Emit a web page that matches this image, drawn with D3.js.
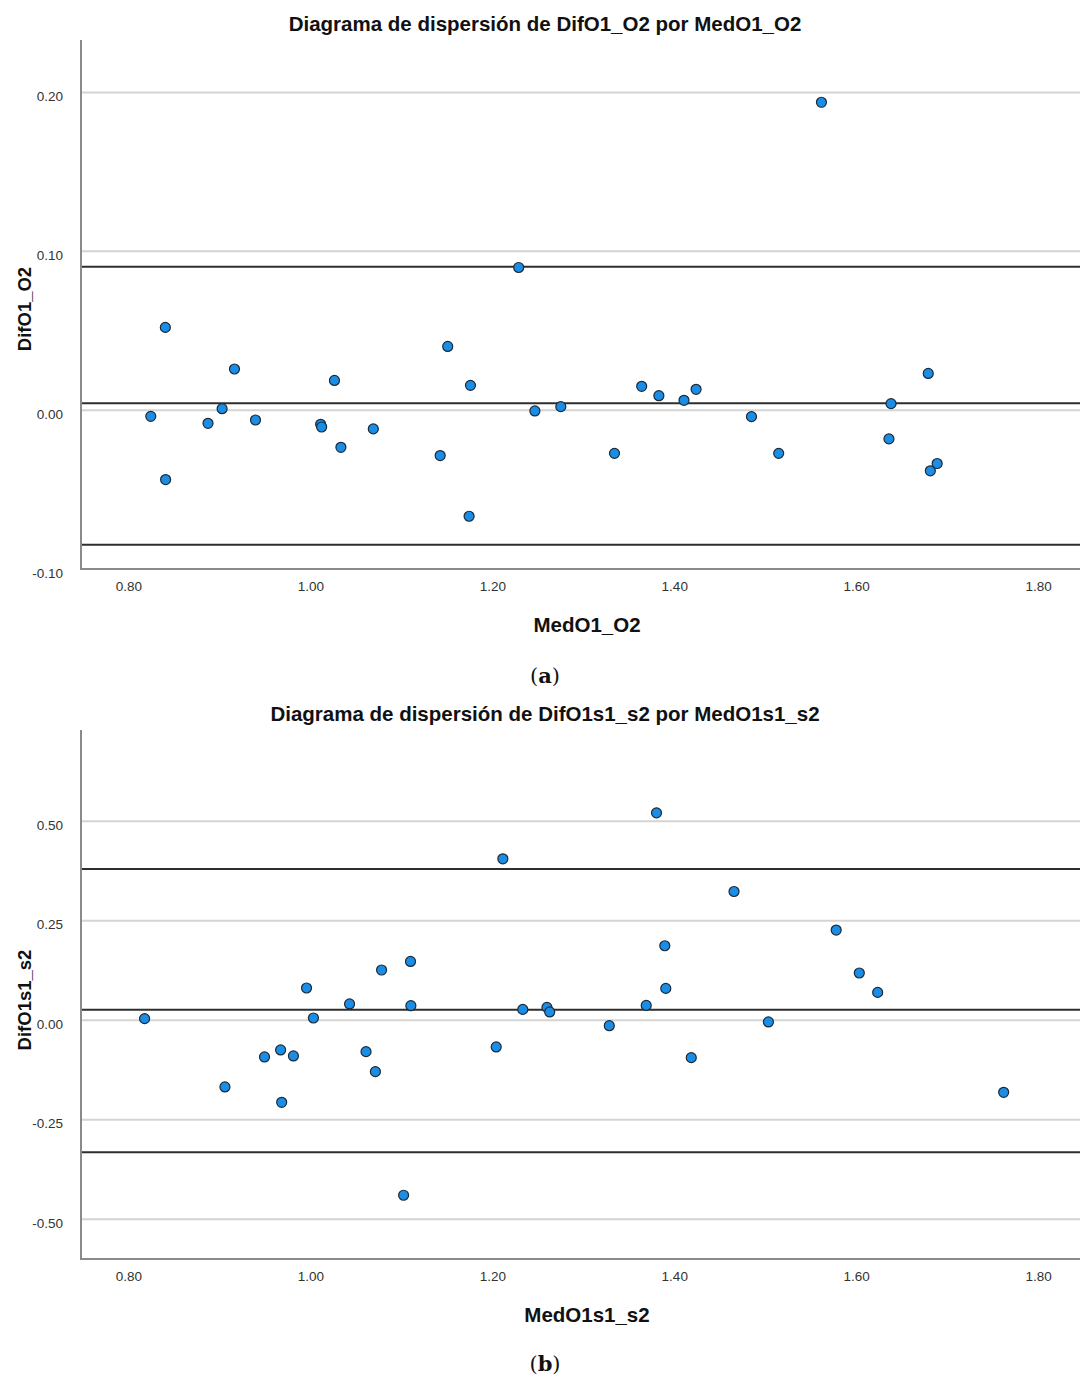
<!DOCTYPE html>
<html>
<head>
<meta charset="utf-8">
<script src="https://cdn.jsdelivr.net/npm/d3@7"></script>
<style>
  body { margin: 0; background: #fff; }
  svg { display: block; font-family: "Liberation Sans", Arial, sans-serif; }
  .tick text { fill: #333; font-size: 13.5px; }
</style>
</head>
<body>
<div id="chart"></div>
<script>
// Panel (a) data: mean of O1/O2 vs difference
var medA = [0.8246, 0.8406, 0.8409, 0.8875, 0.9030, 0.9166, 0.9397, 1.0113, 1.0124, 1.0265,
            1.0336, 1.0692, 1.1427, 1.1510, 1.1745, 1.1760, 1.2290, 1.2468, 1.2753, 1.3343,
            1.3642, 1.3831, 1.4107, 1.4240, 1.4849, 1.5148, 1.5618, 1.6360, 1.6383, 1.6792,
            1.6815, 1.6890]
var difA = [-0.0039, 0.0521, -0.0437, -0.0083, 0.0009, 0.0259, -0.0062, -0.0089, -0.0106, 0.0187,
            -0.0234, -0.0118, -0.0286, 0.0401, -0.0668, 0.0156, 0.0898, -0.0005, 0.0022, -0.0272,
            0.0150, 0.0091, 0.0062, 0.0131, -0.0041, -0.0272, 0.1938, -0.0181, 0.0041, 0.0231,
            -0.0382, -0.0336]
var refLinesA = [0.0903, 0.0043, -0.0848]
var yTicksA = [-0.10, 0.00, 0.10, 0.20]

// Panel (b) data
var medB = [0.8178, 0.9061, 0.9496, 0.9673, 0.9685, 0.9814, 0.9958, 1.0034, 1.0431, 1.0612,
            1.0715, 1.0783, 1.1025, 1.1101, 1.1105, 1.2043, 1.2116, 1.2335, 1.2601, 1.2631,
            1.3286, 1.3692, 1.3805, 1.3896, 1.3907, 1.4187, 1.4657, 1.5035, 1.5780, 1.6034,
            1.6236, 1.7621]
var difB = [0.0038, -0.1677, -0.0924, -0.0748, -0.2063, -0.0899, 0.0808, 0.0055, 0.0407, -0.0791,
            -0.1293, 0.1260, -0.4398, 0.1476, 0.0364, -0.0673, 0.4054, 0.0271, 0.0321, 0.0206,
            -0.0138, 0.0371, 0.5208, 0.1870, 0.0798, -0.0941, 0.3233, -0.0045, 0.2264, 0.1185,
            0.0698, -0.1812]
var refLinesB = [0.3795, 0.0264, -0.3320]
var yTicksB = [-0.50, -0.25, 0.00, 0.25, 0.50]

var xTicks = [0.80, 1.00, 1.20, 1.40, 1.60, 1.80]

// plain hyphen for negatives, like the original
var fmt = d => d.toFixed(2)

var svg = d3.select("#chart").append("svg")
  .attr("width", 1080)
  .attr("height", 1379)

function drawPanel(p) {
  var x = d3.scaleLinear().domain([0.749, 1.846]).range([82, 1080])
  var y = d3.scaleLinear().domain(p.yDomain).range([p.bottom, p.top])
  var g = svg.append("g")

  // gridlines
  g.append("g")
  .selectAll("line")
  .data(p.yTicks)
  .enter()
  .append("line")
  .attr("x1", 82).attr("x2", 1080)
  .attr("y1", d => y(d)).attr("y2", d => y(d))
  .attr("stroke", "#d4d4d4")
  .attr("stroke-width", 2)

  // reference lines (mean and limits)
  g.append("g")
  .selectAll("line")
  .data(p.refLines)
  .enter()
  .append("line")
  .attr("x1", 82).attr("x2", 1080)
  .attr("y1", d => y(d)).attr("y2", d => y(d))
  .attr("stroke", "#2e2e2e")
  .attr("stroke-width", 2)

  // axes
  var yAxis = g.append("g")
  .attr("transform", "translate(82,0)")
  .call(d3.axisLeft(y).tickValues(p.yTicks).tickSize(0).tickPadding(19).tickFormat(fmt))
  yAxis.select(".domain").remove()
  yAxis.selectAll("text").attr("dy", "0.6em")

  var xAxis = g.append("g")
  .attr("transform", "translate(0," + p.bottom + ")")
  .call(d3.axisBottom(x).tickValues(xTicks).tickSize(0).tickPadding(12).tickFormat(fmt))
  xAxis.select(".domain").remove()

  g.append("line")
  .attr("x1", 81).attr("x2", 81).attr("y1", p.top).attr("y2", p.bottom)
  .attr("stroke", "#8a8a8a").attr("stroke-width", 2)
  g.append("line")
  .attr("x1", 80).attr("x2", 1080).attr("y1", p.bottom).attr("y2", p.bottom)
  .attr("stroke", "#8a8a8a").attr("stroke-width", 2)

  // points
  g.append("g")
  .selectAll("circle")
  .data(p.med.map((m, i) => [m, p.dif[i]]))
  .enter()
  .append("circle")
  .attr("cx", d => x(d[0]))
  .attr("cy", d => y(d[1]))
  .attr("r", 5)
  .attr("fill", "#1a8ee6")
  .attr("stroke", "#1c2a36")
  .attr("stroke-width", 1.2)

  // title
  g.append("text")
  .attr("x", 545).attr("y", p.top - 9)
  .attr("text-anchor", "middle")
  .attr("font-size", 20.5).attr("font-weight", "bold")
  .attr("fill", "#111")
  .text(p.title)

  // axis titles
  g.append("text")
  .attr("x", 587).attr("y", p.bottom + 63)
  .attr("text-anchor", "middle")
  .attr("font-size", 20.5).attr("font-weight", "bold")
  .attr("fill", "#111")
  .text(p.xLabel)

  g.append("text")
  .attr("transform", "translate(31," + p.yLabelY + ") rotate(-90)")
  .attr("text-anchor", "middle")
  .attr("font-size", 18.5).attr("font-weight", "bold")
  .attr("fill", "#111")
  .text(p.yLabel)

  // panel caption
  var cap = g.append("text")
  .attr("x", 545).attr("y", p.captionY)
  .attr("text-anchor", "middle")
  .attr("font-family", "'DejaVu Serif', 'Liberation Serif', serif")
  .attr("font-size", 21)
  .attr("fill", "#111")
  cap.append("tspan").text("(")
  cap.append("tspan").attr("font-weight", "bold").text(p.caption)
  cap.append("tspan").text(")")
}

drawPanel({
  top: 40, bottom: 569, yDomain: [-0.10, 0.233],
  yTicks: yTicksA, refLines: refLinesA, med: medA, dif: difA,
  title: "Diagrama de dispersión de DifO1_O2 por MedO1_O2",
  xLabel: "MedO1_O2", yLabel: "DifO1_O2", yLabelY: 309,
  caption: "a", captionY: 683
})

drawPanel({
  top: 730, bottom: 1259, yDomain: [-0.60, 0.729],
  yTicks: yTicksB, refLines: refLinesB, med: medB, dif: difB,
  title: "Diagrama de dispersión de DifO1s1_s2 por MedO1s1_s2",
  xLabel: "MedO1s1_s2", yLabel: "DifO1s1_s2", yLabelY: 1000,
  caption: "b", captionY: 1371
})
</script>
</body>
</html>
